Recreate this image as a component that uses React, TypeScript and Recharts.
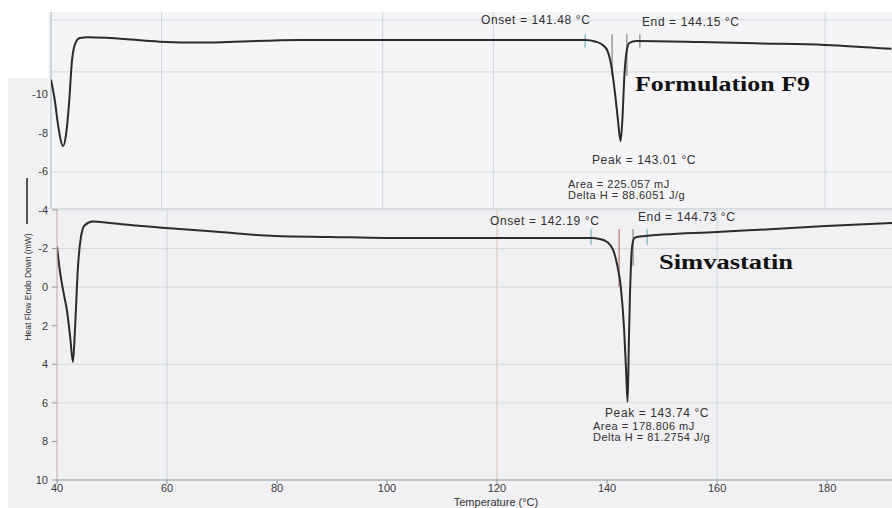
import { LineChart, Line, XAxis, YAxis, ReferenceLine } from "recharts";

// Formulation F9 trace: temperature (°C) / heat flow (mW, endo down)
const f9Temp = [
  40, 40.7, 41.3, 42.2, 42.7, 43.3, 43.8, 44.5, 45.2, 46.7, 50.7, 59.7, 67, 85, 103, 121,
  136.6, 138.4, 139.8, 140.7, 141.4, 142.0, 142.5, 143.01, 143.35, 143.7, 144.15, 144.6,
  145.8, 157.4, 168.2, 180, 192,
];
const f9Flow = [
  -10.8, -9.7, -8.4, -7.35, -7.9, -9.7, -11.8, -12.75, -12.96, -13.0, -12.96, -12.77, -12.72,
  -12.86, -12.86, -12.86, -12.86, -12.78, -12.6, -12.25, -11.4, -10.1, -8.8, -7.6, -8.8, -11.0,
  -12.35, -12.7, -12.8, -12.75, -12.68, -12.6, -12.4,
];

// Simvastatin trace
const simTemp = [
  40, 40.5, 41.2, 41.8, 42.4, 42.9, 43.3, 43.8, 44.3, 45, 46.5, 47.8, 53.3, 59.8, 69.6, 79.6,
  89.6, 99.8, 120, 137.1, 138.7, 140, 141.1, 141.8, 142.5, 143.1, 143.45, 143.74, 143.95,
  144.15, 144.35, 144.6, 145, 146, 160, 169.6, 179.8, 191.8,
];
const simFlow = [
  -2.1, -0.9, 0.3, 1.2, 2.6, 3.88, 2.0, -1.0, -2.5, -3.2, -3.4, -3.38, -3.22, -3.07, -2.86,
  -2.65, -2.6, -2.55, -2.55, -2.55, -2.5, -2.34, -1.93, -1.2, 0.0, 2.2, 4.3, 5.95, 3.0, 0.5,
  -1.2, -2.2, -2.55, -2.62, -2.86, -3.0, -3.17, -3.33,
];

const xTicks = [40, 60, 80, 100, 120, 140, 160, 180];
const yTicks = [-10, -8, -6, -4, -2, 0, 2, 4, 6, 8, 10];

// grid lines that survived on each sheet
const f9GridX = [60, 100, 120, 180];
const f9GridY = [-13.9, -11.2, -6];
const simGridX = [60, 120, 160];
const simGridY = [-4, -2, 0, 4, 6];

// integration limits and onset / end markers
const f9Limits = [136.6, 146.5];
const f9Onset = 141.48;
const f9End = 144.15;
const simLimits = [137.1, 147.3];
const simOnset = 142.19;
const simEnd = 144.73;

const f9Data = f9Temp.map((t, i) => ({ t, mw: f9Flow[i] }));
const simData = simTemp.map((t, i) => ({ t, mw: simFlow[i] }));

const SANS = "'Liberation Sans', Arial, sans-serif";
const SERIF = "'Liberation Serif', 'Times New Roman', serif";
const note = { fontFamily: SANS, fontSize: 12, fill: "#303030", letterSpacing: 0.6 };
const small = { fontFamily: SANS, fontSize: 11, fill: "#303030", letterSpacing: 0.5 };
const title = { fontFamily: SERIF, fontSize: 20, fontWeight: 700, fill: "#111" };

function mark(x: number, y1: number, y2: number, color: string, key: string) {
  return (
    <ReferenceLine
      key={key}
      segment={[{ x, y: y1 }, { x, y: y2 }]}
      stroke={color}
      strokeWidth={1.5}
      ifOverflow="visible"
    />
  );
}

export default function App() {
  return (
    <div style={{ position: "absolute", left: 0, top: 0, width: 892, height: 508, background: "#fff", overflow: "hidden" }}>
      {/* lower sheet */}
      <div style={{ position: "absolute", left: 8, top: 78, width: 884, height: 430, background: "#f1f1f3" }} />
      <div style={{ position: "absolute", left: 0, top: 0 }}>
        <LineChart width={892} height={508} margin={{ top: 63, right: 0, left: 0, bottom: 0 }}>
          <XAxis
            type="number"
            dataKey="t"
            domain={[40, 191.8]}
            allowDataOverflow
            ticks={xTicks}
            height={28}
            tick={{ fill: "#3a3a3a", fontSize: 11, fontFamily: SANS }}
            tickSize={4}
            tickMargin={0}
            tickLine={{ stroke: "#8a9aa0" }}
            axisLine={{ stroke: "#8a9aa0" }}
          />
          <YAxis
            type="number"
            domain={[-11.62, 10]}
            allowDataOverflow
            reversed
            ticks={yTicks}
            width={57}
            tick={{ fill: "#3a3a3a", fontSize: 11, fontFamily: SANS }}
            tickSize={5}
            tickMargin={4}
            tickLine={{ stroke: "#9a9a9a" }}
            axisLine={{ stroke: "#c4a8a2" }}
          />
          {simGridX.map((v) => (
            <ReferenceLine key={"sx" + v} x={v} stroke={v === 120 ? "#dcc4b4" : "#c6d6da"} />
          ))}
          {simGridY.map((v) => (
            <ReferenceLine key={"sy" + v} y={v} stroke="#d2d8dc" />
          ))}
          {simLimits.map((v) => mark(v, -3.0, -2.2, "#8cc0c8", "sl" + v))}
          {mark(simOnset, -3.0, 0.0, "#c88a84", "so")}
          {mark(simEnd, -3.0, -1.1, "#9a9a9a", "se")}
          <Line
            data={simData}
            dataKey="mw"
            type="monotone"
            stroke="#2b2b2b"
            strokeWidth={2}
            dot={false}
            isAnimationActive={false}
          />
        </LineChart>
      </div>

      {/* upper sheet */}
      <div
        style={{
          position: "absolute",
          left: 48,
          top: 12,
          width: 844,
          height: 196,
          background: "#f5f5f7",
          boxShadow: "0 1px 0 #d3dadd",
        }}
      >
        <LineChart width={844} height={196} margin={{ top: 0, right: 0, left: 3, bottom: 0 }}>
          <XAxis type="number" dataKey="t" domain={[40, 192.1]} allowDataOverflow hide />
          <YAxis type="number" domain={[-14.31, -4.13]} allowDataOverflow reversed hide />
          <ReferenceLine x={40} stroke="#9db6ba" />
          {f9GridX.map((v) => (
            <ReferenceLine key={"fx" + v} x={v} stroke="#c6d6da" />
          ))}
          {f9GridY.map((v) => (
            <ReferenceLine key={"fy" + v} y={v} stroke="#d2d8dc" />
          ))}
          {f9Limits.map((v) => mark(v, -13.15, -12.45, v < 140 ? "#8cc0c8" : "#9a9a9a", "fl" + v))}
          {mark(f9Onset, -13.15, -11.0, "#9a9a9a", "fo")}
          {mark(f9End, -13.15, -11.0, "#9a9a9a", "fe")}
          <Line
            data={f9Data}
            dataKey="mw"
            type="monotone"
            stroke="#2b2b2b"
            strokeWidth={2}
            dot={false}
            isAnimationActive={false}
          />
        </LineChart>
      </div>

      {/* annotations and titles */}
      <svg width={892} height={508} style={{ position: "absolute", left: 0, top: 0, pointerEvents: "none" }}>
        <text x={481} y={24} style={note}>Onset = 141.48 °C</text>
        <text x={642} y={26} style={note}>End = 144.15 °C</text>
        <text x={592} y={164} style={note}>Peak = 143.01 °C</text>
        <text x={568} y={188} style={small}>Area = 225.057 mJ</text>
        <text x={568} y={199} style={small}>Delta H = 88.6051 J/g</text>

        <text x={490} y={225} style={note}>Onset = 142.19 °C</text>
        <text x={638} y={221} style={note}>End = 144.73 °C</text>
        <text x={605} y={417} style={note}>Peak = 143.74 °C</text>
        <text x={593} y={430} style={small}>Area = 178.806 mJ</text>
        <text x={593} y={441} style={small}>Delta H = 81.2754 J/g</text>

        <text x={635} y={91} style={title} textLength={175} lengthAdjust="spacingAndGlyphs">
          Formulation F9
        </text>
        <text x={659} y={269} style={title} textLength={134} lengthAdjust="spacingAndGlyphs">
          Simvastatin
        </text>

        <text
          x={496}
          y={506}
          textAnchor="middle"
          style={{ fontFamily: SANS, fontSize: 11, fill: "#333" }}
        >
          Temperature (°C)
        </text>
        <text
          transform="translate(31 287) rotate(-90)"
          textAnchor="middle"
          textLength={107}
          lengthAdjust="spacingAndGlyphs"
          style={{ fontFamily: SANS, fontSize: 9, fill: "#333" }}
        >
          Heat Flow Endo Down (mW)
        </text>
        <line x1={27} y1={178} x2={27} y2={224} stroke="#555" strokeWidth={2} />
      </svg>
    </div>
  );
}
